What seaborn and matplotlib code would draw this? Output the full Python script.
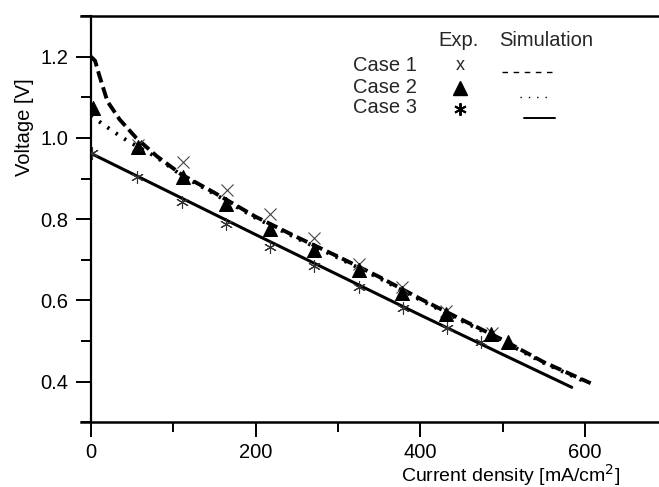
import pandas as pd
import seaborn as sns
import matplotlib.pyplot as plt
from matplotlib.lines import Line2D
from matplotlib.ticker import MultipleLocator

case1_exp_x = [57, 112, 165, 218, 271, 326, 378, 431, 487]
case1_exp_y = [0.982, 0.940, 0.871, 0.813, 0.753, 0.689, 0.632, 0.574, 0.519]
case2_exp_x = [2, 57, 112, 164, 218, 271, 326, 378, 431, 486, 506]
case2_exp_y = [1.074, 0.977, 0.905, 0.838, 0.776, 0.724, 0.675, 0.617, 0.567, 0.516, 0.497]
case3_exp_x = [1, 56, 111, 164, 218, 271, 326, 379, 432, 474]
case3_exp_y = [0.963, 0.904, 0.842, 0.788, 0.732, 0.684, 0.632, 0.582, 0.532, 0.497]

# simulation curves
case1_sim_x = [0, 5, 10, 20, 35, 55, 80, 110, 150, 200, 250, 300, 350, 400, 450, 500, 550, 607]
case1_sim_y = [1.20, 1.19, 1.155, 1.09, 1.045, 1.0, 0.955, 0.91, 0.865, 0.806, 0.756, 0.708,
               0.658, 0.604, 0.553, 0.503, 0.448, 0.396]
case2_sim_x = [0, 15, 30, 45, 60, 80, 110, 150, 200, 250, 300, 350, 400, 450, 500, 550, 600]
case2_sim_y = [1.055, 1.033, 1.012, 0.992, 0.975, 0.952, 0.908, 0.862, 0.803, 0.753, 0.705,
               0.655, 0.601, 0.550, 0.500, 0.446, 0.400]
case3_sim_x = [0, 100, 200, 300, 400, 500, 584]
case3_sim_y = [0.962, 0.862, 0.762, 0.663, 0.564, 0.467, 0.386]

case_labels = ['Case 1', 'Case 2', 'Case 3']

sns.set_style('ticks')
plt.rcParams['font.family'] = ['Liberation Sans', 'DejaVu Sans']
plt.rcParams['font.size'] = 14.5

fig = plt.figure(figsize=(6.59, 4.87), dpi=100)
ax = fig.add_axes([0.138, 0.133, 0.862, 0.834])

sim = [(case1_sim_x, case1_sim_y, dict(linestyle=(0, (3, 1.3)), linewidth=2.8)),
       (case2_sim_x, case2_sim_y, dict(linestyle=(0, (0.6, 2.0)), linewidth=2.8)),
       (case3_sim_x, case3_sim_y, dict(linestyle='-', linewidth=2.2))]
for xs, ys, kw in sim:
    df = pd.DataFrame({'j': xs, 'v': ys})
    sns.lineplot(data=df, x='j', y='v', ax=ax, color='black', sort=False,
                 estimator=None, **kw)

sns.scatterplot(x=case1_exp_x, y=case1_exp_y, ax=ax, marker='x', s=75,
                color='#444444', linewidth=0.8, zorder=3)
sns.scatterplot(x=case2_exp_x, y=case2_exp_y, ax=ax, marker='^', s=100,
                color='black', edgecolor='black', zorder=4)
sns.scatterplot(x=case3_exp_x, y=case3_exp_y, ax=ax, marker=(6, 2, 0), s=75,
                color='#333333', linewidth=0.8, zorder=3)

ax.set_xlim(0, 690)
ax.set_ylim(0.3, 1.3)
ax.xaxis.set_minor_locator(MultipleLocator(100))
ax.yaxis.set_minor_locator(MultipleLocator(0.1))
ax.set_xticks([0, 200, 400, 600])
ax.set_xticklabels(['0', '200', '400', '600'])
ax.set_yticks([0.4, 0.6, 0.8, 1.0, 1.2])
ax.set_yticklabels(['0.4', '0.6', '0.8', '1.0', '1.2'])
ax.tick_params(which='major', direction='out', length=11, width=1.4, pad=4,
               labelsize=14.5, color='black', labelcolor='black')
ax.tick_params(axis='y', which='major', pad=5)
ax.tick_params(which='minor', direction='out', length=7, width=1.4, color='black')

ax.spines['right'].set_visible(False)
for side in ['top', 'bottom']:
    ax.spines[side].set_linewidth(1.8)
    ax.spines[side].set_bounds(-12, 690)
for side in ['top', 'bottom', 'left']:
    ax.spines[side].set_color('black')
ax.spines['left'].set_linewidth(1.6)

ax.set_xlabel('Current density [mA/cm$^2$]', fontsize=14, color='black')
ax.set_ylabel('Voltage [V]', fontsize=14.5, color='black')
ax.xaxis.set_label_coords(0.739, -0.097)
ax.yaxis.set_label_coords(-0.101, 0.727)

# table-style legend
tr = ax.transAxes
ax.text(0.647, 0.941, 'Exp.', transform=tr, ha='center', va='center', fontsize=14.5)
ax.text(0.802, 0.941, 'Simulation', transform=tr, ha='center', va='center', fontsize=14.5)
rows_y = [0.879, 0.825, 0.774]
for lab, yy in zip(case_labels, rows_y):
    ax.text(0.461, yy, lab, transform=tr, ha='left', va='center', fontsize=14.5)
ax.text(0.650, 0.879, 'x', transform=tr, ha='center', va='center', fontsize=13)
ax.add_line(Line2D([0.650], [0.823], transform=tr, marker='^', markersize=10,
                   color='black', linestyle='none'))
ax.add_line(Line2D([0.650], [0.771], transform=tr, marker=(6, 2, 0), markersize=9,
                   color='black', markeredgewidth=1.4, linestyle='none'))
ax.add_line(Line2D([0.724, 0.813], [0.862, 0.862], transform=tr, color='black',
                   linewidth=1.0, linestyle=(0, (4, 4))))
ax.add_line(Line2D([0.755, 0.808], [0.801, 0.801], transform=tr, color='black',
                   linewidth=1.0, linestyle=(0, (1, 5))))
ax.add_line(Line2D([0.762, 0.817], [0.749, 0.749], transform=tr, color='black',
                   linewidth=1.4, linestyle='-'))

fig.savefig('out.png', dpi=100)
